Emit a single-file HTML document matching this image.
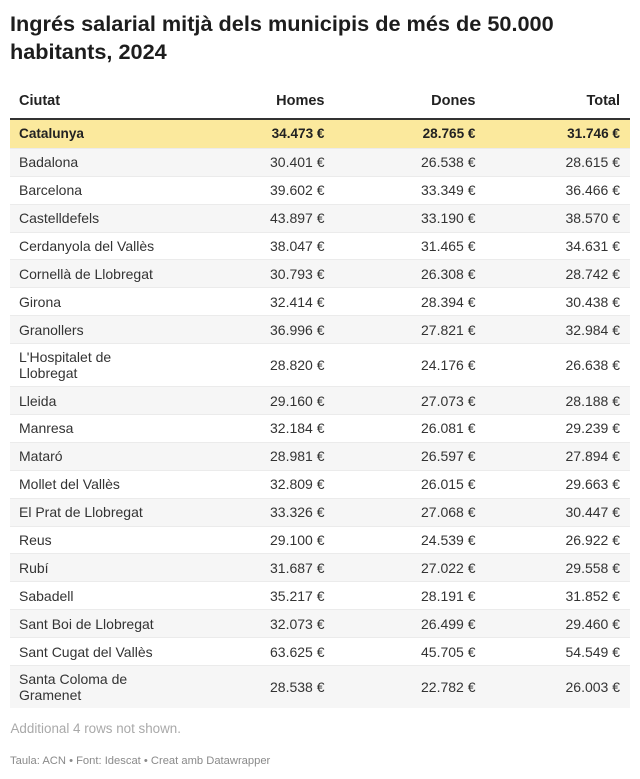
<!DOCTYPE html>
<html>
<head>
<meta charset="utf-8">
<style>
  html, body { margin:0; padding:0; background:#fff; }
  body { width:640px; height:779px; position:relative; overflow:hidden;
         font-family:"Liberation Sans", Arial, sans-serif; color:#333; }
  .title { position:absolute; left:10px; top:10.3px; font-size:21.7px; font-weight:bold;
           line-height:27.5px; color:#1d1d1d; white-space:nowrap; }
  .hdr { position:absolute; top:92.6px; font-size:14.5px; font-weight:bold; color:#222;
         line-height:normal; white-space:nowrap; }
  .hline { position:absolute; left:10px; width:620px; top:118px; height:2px; background:#333; }
  .tbl { position:absolute; left:10px; top:120px; width:620px; }
  .row { position:relative; height:27.9px; box-sizing:border-box; border-top:1px solid #ebebeb;
         font-size:14px; line-height:16px; }
  .row.first { border-top:none; }
  .row.dbl { height:43px; }
  .row.g { background:#f6f6f6; }
  .row.y { background:#fbe99d; font-weight:bold; color:#222; font-size:13.6px; }
  .row span { position:absolute; top:50%; transform:translateY(-50%); white-space:nowrap; }
  .c0 { left:9px; }
  .c1 { right:305.5px; }
  .c2 { right:154.5px; }
  .c3 { right:10px; }
  .more { position:absolute; left:10.5px; top:720.6px; font-size:13.4px; color:#a9a9a9;
          line-height:normal; white-space:nowrap; }
  .src { position:absolute; left:10px; top:755.4px; font-size:11.2px; color:#8a8a8a;
         line-height:normal; white-space:nowrap; }
</style>
</head>
<body>
<div class="title">Ingrés salarial mitjà dels municipis de més de 50.000<br>habitants, 2024</div>

<div class="hdr" style="left:19px;">Ciutat</div>
<div class="hdr" style="right:315.5px;">Homes</div>
<div class="hdr" style="right:164.5px;">Dones</div>
<div class="hdr" style="right:20px;">Total</div>
<div class="hline"></div>

<div class="tbl">
  <div class="row y first"><span class="c0">Catalunya</span><span class="c1">34.473 €</span><span class="c2">28.765 €</span><span class="c3">31.746 €</span></div>
  <div class="row g"><span class="c0">Badalona</span><span class="c1">30.401 €</span><span class="c2">26.538 €</span><span class="c3">28.615 €</span></div>
  <div class="row"><span class="c0">Barcelona</span><span class="c1">39.602 €</span><span class="c2">33.349 €</span><span class="c3">36.466 €</span></div>
  <div class="row g"><span class="c0">Castelldefels</span><span class="c1">43.897 €</span><span class="c2">33.190 €</span><span class="c3">38.570 €</span></div>
  <div class="row"><span class="c0">Cerdanyola del Vallès</span><span class="c1">38.047 €</span><span class="c2">31.465 €</span><span class="c3">34.631 €</span></div>
  <div class="row g"><span class="c0">Cornellà de Llobregat</span><span class="c1">30.793 €</span><span class="c2">26.308 €</span><span class="c3">28.742 €</span></div>
  <div class="row"><span class="c0">Girona</span><span class="c1">32.414 €</span><span class="c2">28.394 €</span><span class="c3">30.438 €</span></div>
  <div class="row g"><span class="c0">Granollers</span><span class="c1">36.996 €</span><span class="c2">27.821 €</span><span class="c3">32.984 €</span></div>
  <div class="row dbl"><span class="c0">L'Hospitalet de<br>Llobregat</span><span class="c1">28.820 €</span><span class="c2">24.176 €</span><span class="c3">26.638 €</span></div>
  <div class="row g"><span class="c0">Lleida</span><span class="c1">29.160 €</span><span class="c2">27.073 €</span><span class="c3">28.188 €</span></div>
  <div class="row"><span class="c0">Manresa</span><span class="c1">32.184 €</span><span class="c2">26.081 €</span><span class="c3">29.239 €</span></div>
  <div class="row g"><span class="c0">Mataró</span><span class="c1">28.981 €</span><span class="c2">26.597 €</span><span class="c3">27.894 €</span></div>
  <div class="row"><span class="c0">Mollet del Vallès</span><span class="c1">32.809 €</span><span class="c2">26.015 €</span><span class="c3">29.663 €</span></div>
  <div class="row g"><span class="c0">El Prat de Llobregat</span><span class="c1">33.326 €</span><span class="c2">27.068 €</span><span class="c3">30.447 €</span></div>
  <div class="row"><span class="c0">Reus</span><span class="c1">29.100 €</span><span class="c2">24.539 €</span><span class="c3">26.922 €</span></div>
  <div class="row g"><span class="c0">Rubí</span><span class="c1">31.687 €</span><span class="c2">27.022 €</span><span class="c3">29.558 €</span></div>
  <div class="row"><span class="c0">Sabadell</span><span class="c1">35.217 €</span><span class="c2">28.191 €</span><span class="c3">31.852 €</span></div>
  <div class="row g"><span class="c0">Sant Boi de Llobregat</span><span class="c1">32.073 €</span><span class="c2">26.499 €</span><span class="c3">29.460 €</span></div>
  <div class="row"><span class="c0">Sant Cugat del Vallès</span><span class="c1">63.625 €</span><span class="c2">45.705 €</span><span class="c3">54.549 €</span></div>
  <div class="row g dbl"><span class="c0">Santa Coloma de<br>Gramenet</span><span class="c1">28.538 €</span><span class="c2">22.782 €</span><span class="c3">26.003 €</span></div>
</div>

<div class="more">Additional 4 rows not shown.</div>
<div class="src">Taula: ACN • Font: Idescat • Creat amb Datawrapper</div>
</body>
</html>
